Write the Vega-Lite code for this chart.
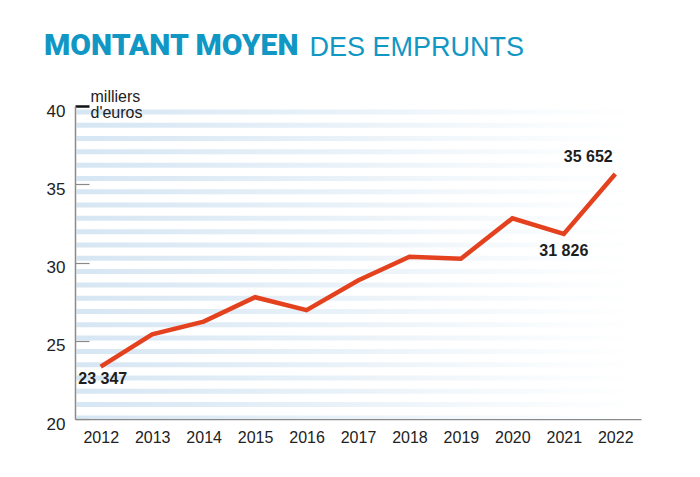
{
  "$schema": "https://vega.github.io/schema/vega-lite/v6.json",
  "width": 566,
  "height": 313,
  "autosize": "none",
  "padding": {"left": 75, "top": 106, "right": 59, "bottom": 58},
  "background": "white",
  "config": {"view": {"stroke": null}, "axis": {"grid": false}},
  "title": {
    "text": "MONTANT MOYEN", "anchor": "start", "frame": "group", "dx": -31, "dy": 56,
    "font": "Roboto", "fontWeight": 900, "fontSize": 30, "color": "#1197c4", "baseline": "alphabetic"
  },
  "datasets": {
    "series": [
      {"year": 2012, "value": 23.347, "label": "23 347"},
      {"year": 2013, "value": 25.41, "label": ""},
      {"year": 2014, "value": 26.22, "label": ""},
      {"year": 2015, "value": 27.78, "label": ""},
      {"year": 2016, "value": 26.96, "label": ""},
      {"year": 2017, "value": 28.85, "label": ""},
      {"year": 2018, "value": 30.37, "label": ""},
      {"year": 2019, "value": 30.24, "label": ""},
      {"year": 2020, "value": 32.82, "label": ""},
      {"year": 2021, "value": 31.826, "label": "31 826"},
      {"year": 2022, "value": 35.652, "label": "35 652"}
    ],
    "stripes": [
      {"lo": 39.46, "hi": 39.78}, {"lo": 38.61, "hi": 38.93}, {"lo": 37.76, "hi": 38.08},
      {"lo": 36.91, "hi": 37.23}, {"lo": 36.06, "hi": 36.38}, {"lo": 35.21, "hi": 35.53},
      {"lo": 34.36, "hi": 34.68}, {"lo": 33.51, "hi": 33.83}, {"lo": 32.66, "hi": 32.98},
      {"lo": 31.81, "hi": 32.13}, {"lo": 30.96, "hi": 31.28}, {"lo": 30.11, "hi": 30.43},
      {"lo": 29.26, "hi": 29.58}, {"lo": 28.41, "hi": 28.73}, {"lo": 27.56, "hi": 27.88},
      {"lo": 26.71, "hi": 27.03}, {"lo": 25.86, "hi": 26.18}, {"lo": 25.01, "hi": 25.33},
      {"lo": 24.16, "hi": 24.48}, {"lo": 23.31, "hi": 23.63}, {"lo": 22.46, "hi": 22.78},
      {"lo": 21.61, "hi": 21.93}, {"lo": 20.76, "hi": 21.08}, {"lo": 20.0, "hi": 20.23}
    ]
  },
  "layer": [
    {
      "data": {"name": "stripes"},
      "mark": {
        "type": "rect",
        "fill": {
          "gradient": "linear", "x1": 0, "y1": 0, "x2": 1, "y2": 0,
          "stops": [
            {"offset": 0, "color": "#d6e6f3"},
            {"offset": 0.4, "color": "#e6f0f8"},
            {"offset": 0.8, "color": "#f8fbfd"},
            {"offset": 1, "color": "#ffffff"}
          ]
        }
      },
      "encoding": {
        "x": {
          "datum": 2011.53, "type": "quantitative",
          "scale": {"domain": [2011.5, 2022.5], "nice": false, "zero": false}
        },
        "x2": {"datum": 2022.5},
        "y": {
          "field": "lo", "type": "quantitative",
          "scale": {"domain": [20, 40], "nice": false, "zero": false}
        },
        "y2": {"field": "hi"}
      }
    },
    {
      "data": {"name": "series"},
      "mark": {"type": "line", "color": "#e4411f", "strokeWidth": 4.5},
      "encoding": {
        "x": {
          "field": "year", "type": "quantitative",
          "axis": {
            "orient": "bottom",
            "values": [2012, 2013, 2014, 2015, 2016, 2017, 2018, 2019, 2020, 2021, 2022],
            "format": "d", "domainColor": "#8a8a8a", "domainWidth": 1.5, "ticks": false,
            "labelFont": "Liberation Sans", "labelFontSize": 16, "labelColor": "#222222",
            "labelPadding": 10,
            "title": "DES EMPRUNTS", "titleX": 234, "titleY": -364,
            "titleAlign": "left", "titleAnchor": "start", "titleBaseline": "alphabetic",
            "titleFont": "Liberation Sans", "titleFontSize": 27, "titleFontWeight": "normal",
            "titleColor": "#1197c4"
          }
        },
        "y": {
          "field": "value", "type": "quantitative",
          "axis": {
            "orient": "left", "values": [20, 25, 30, 35, 40], "zindex": 1,
            "domainColor": "#8a8a8a", "domainWidth": 1.5,
            "ticks": true, "tickSize": -14,
            "tickColor": {"condition": {"test": "datum.value === 40", "value": "#111111"}, "value": "#8a8a8a"},
            "tickWidth": {"condition": {"test": "datum.value === 40", "value": 2.5}, "value": 1.2},
            "labelFont": "Liberation Sans", "labelFontSize": 17, "labelColor": "#222222",
            "labelPadding": 24, "labelOffset": 5,
            "title": ["milliers", "d'euros"], "titleAngle": 0, "titleX": 15, "titleY": -5,
            "titleAlign": "left", "titleBaseline": "alphabetic", "titleLineHeight": 16,
            "titleFont": "Liberation Sans", "titleFontSize": 16, "titleFontWeight": "normal",
            "titleColor": "#222222"
          }
        }
      }
    },
    {
      "data": {"name": "series"},
      "transform": [{"filter": "datum.year === 2012"}],
      "mark": {"type": "text", "font": "Liberation Sans", "fontWeight": "bold", "fontSize": 16, "color": "#1d1d1d", "baseline": "middle", "align": "center", "dx": 2, "dy": 12},
      "encoding": {
        "x": {"field": "year", "type": "quantitative"},
        "y": {"field": "value", "type": "quantitative"},
        "text": {"field": "label"}
      }
    },
    {
      "data": {"name": "series"},
      "transform": [{"filter": "datum.year === 2021"}],
      "mark": {"type": "text", "font": "Liberation Sans", "fontWeight": "bold", "fontSize": 16, "color": "#1d1d1d", "baseline": "middle", "align": "center", "dx": 0, "dy": 17},
      "encoding": {
        "x": {"field": "year", "type": "quantitative"},
        "y": {"field": "value", "type": "quantitative"},
        "text": {"field": "label"}
      }
    },
    {
      "data": {"name": "series"},
      "transform": [{"filter": "datum.year === 2022"}],
      "mark": {"type": "text", "font": "Liberation Sans", "fontWeight": "bold", "fontSize": 16, "color": "#1d1d1d", "baseline": "middle", "align": "center", "dx": -27, "dy": -17},
      "encoding": {
        "x": {"field": "year", "type": "quantitative"},
        "y": {"field": "value", "type": "quantitative"},
        "text": {"field": "label"}
      }
    }
  ]
}
